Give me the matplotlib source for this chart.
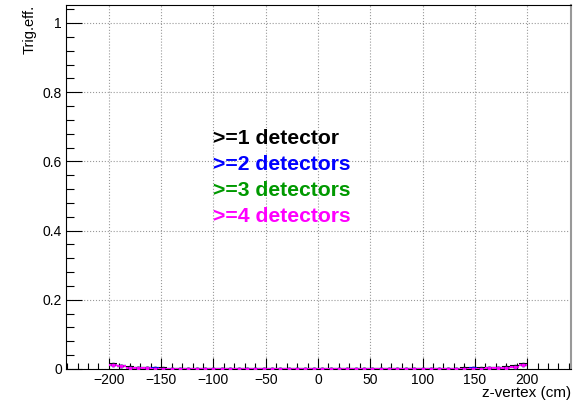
import numpy as np
import matplotlib.pyplot as plt
from matplotlib.ticker import MultipleLocator

plt.rcParams['font.family'] = ['Liberation Sans', 'DejaVu Sans']

# z-vertex bin centres (cm), 8 cm bins from -200 to 200
zbins = np.arange(-196, 200, 8)

# trigger efficiency per bin for each multiplicity requirement (~0 everywhere)
eff1 = [0.013, 0.009, 0.005, 0.004, 0.003, 0.002, 0.002, 0.001, 0.001, 0.001,
        0.001, 0.001, 0.0, 0.0, 0.0, 0.0, 0.0, 0.0, 0.0, 0.0,
        0.0, 0.0, 0.0, 0.0, 0.0, 0.0, 0.0, 0.0, 0.0, 0.0,
        0.0, 0.0, 0.0, 0.0, 0.0, 0.0, 0.0, 0.001, 0.001, 0.001,
        0.001, 0.001, 0.002, 0.002, 0.002, 0.003, 0.003, 0.005, 0.008, 0.013]
eff2 = [0.012, 0.008, 0.004, 0.003, 0.002, 0.002, 0.001, 0.001, 0.001, 0.0,
        0.001, 0.0, 0.0, 0.0, 0.0, 0.0, 0.0, 0.0, 0.0, 0.0,
        0.0, 0.0, 0.0, 0.0, 0.0, 0.0, 0.0, 0.0, 0.0, 0.0,
        0.0, 0.0, 0.0, 0.0, 0.0, 0.0, 0.0, 0.0, 0.001, 0.0,
        0.001, 0.001, 0.001, 0.002, 0.001, 0.002, 0.003, 0.004, 0.007, 0.012]
eff3 = [0.012, 0.008, 0.004, 0.003, 0.002, 0.001, 0.001, 0.001, 0.0, 0.0,
        0.001, 0.0, 0.0, 0.0, 0.0, 0.0, 0.0, 0.0, 0.0, 0.0,
        0.0, 0.0, 0.0, 0.0, 0.0, 0.0, 0.0, 0.0, 0.0, 0.0,
        0.0, 0.0, 0.0, 0.0, 0.0, 0.0, 0.0, 0.0, 0.0, 0.0,
        0.001, 0.0, 0.001, 0.001, 0.001, 0.002, 0.002, 0.004, 0.007, 0.012]
eff4 = [0.011, 0.008, 0.004, 0.003, 0.002, 0.001, 0.001, 0.001, 0.0, 0.0,
        0.001, 0.0, 0.0, 0.001, 0.0, 0.0, 0.0, 0.001, 0.0, 0.0,
        0.001, 0.0, 0.0, 0.001, 0.0, 0.0, 0.001, 0.0, 0.0, 0.001,
        0.0, 0.0, 0.001, 0.0, 0.0, 0.0, 0.001, 0.0, 0.001, 0.0,
        0.001, 0.0, 0.001, 0.001, 0.001, 0.002, 0.002, 0.004, 0.007, 0.011]

labels = [">=1 detector", ">=2 detectors", ">=3 detectors", ">=4 detectors"]
colors = ["black", "#0000ff", "#009900", "#ff00ff"]
series = [eff1, eff2, eff3, eff4]

fig = plt.figure(figsize=(5.81, 4.03), dpi=100)
ax = fig.add_axes([0.1136, 0.0844, 0.8692, 0.9032])

for y, c in zip(series, colors):
    ax.errorbar(zbins, y, xerr=4, fmt='s', ms=2, color=c, ecolor=c,
                elinewidth=1.5, capsize=0, zorder=3)

ypos = [0.65, 0.575, 0.5, 0.425]
for t, c, yy in zip(labels, colors, ypos):
    ax.text(-100, yy, t, color=c, fontsize=15.2, fontweight='bold',
            ha='left', va='baseline')

ax.set_xlim(-241, 242)
ax.set_ylim(0, 1.052)

ax.xaxis.set_major_locator(MultipleLocator(50))
ax.xaxis.set_minor_locator(MultipleLocator(10))
ax.yaxis.set_major_locator(MultipleLocator(0.2))
ax.yaxis.set_minor_locator(MultipleLocator(0.04))
ax.set_xticks(np.arange(-200, 201, 50))
ax.set_xticklabels([str(v) if v >= 0 else '\u2212' + str(-v) for v in range(-200, 201, 50)])
ax.set_yticks([0, 0.2, 0.4, 0.6, 0.8, 1.0])
ax.set_yticklabels(['0', '0.2', '0.4', '0.6', '0.8', '1'])

ax.tick_params(axis='x', which='major', direction='in', length=8, width=0.8,
               labelsize=10, pad=3, top=False)
ax.tick_params(axis='x', which='minor', direction='in', length=4, width=0.8, top=False)
ax.tick_params(axis='y', which='major', direction='in', length=11.5, width=0.8,
               labelsize=10, pad=3, right=False)
ax.tick_params(axis='y', which='minor', direction='in', length=5.8, width=0.8, right=False)

ax.grid(True, which='major', color='#999999', linestyle=':', linewidth=0.8)

for s in ['left', 'bottom', 'top']:
    ax.spines[s].set_linewidth(0.8)
ax.spines['right'].set_linewidth(1.5)
ax.spines['right'].set_color('#999999')

fig.text(571 / 581, 1 - 393 / 403, 'z-vertex (cm)', fontsize=11, ha='right', va='center')
fig.text(30 / 581, 1 - 5 / 403, 'Trig.eff.', fontsize=10.5, rotation=90,
         ha='center', va='top')

fig.savefig('out.png', dpi=100)
